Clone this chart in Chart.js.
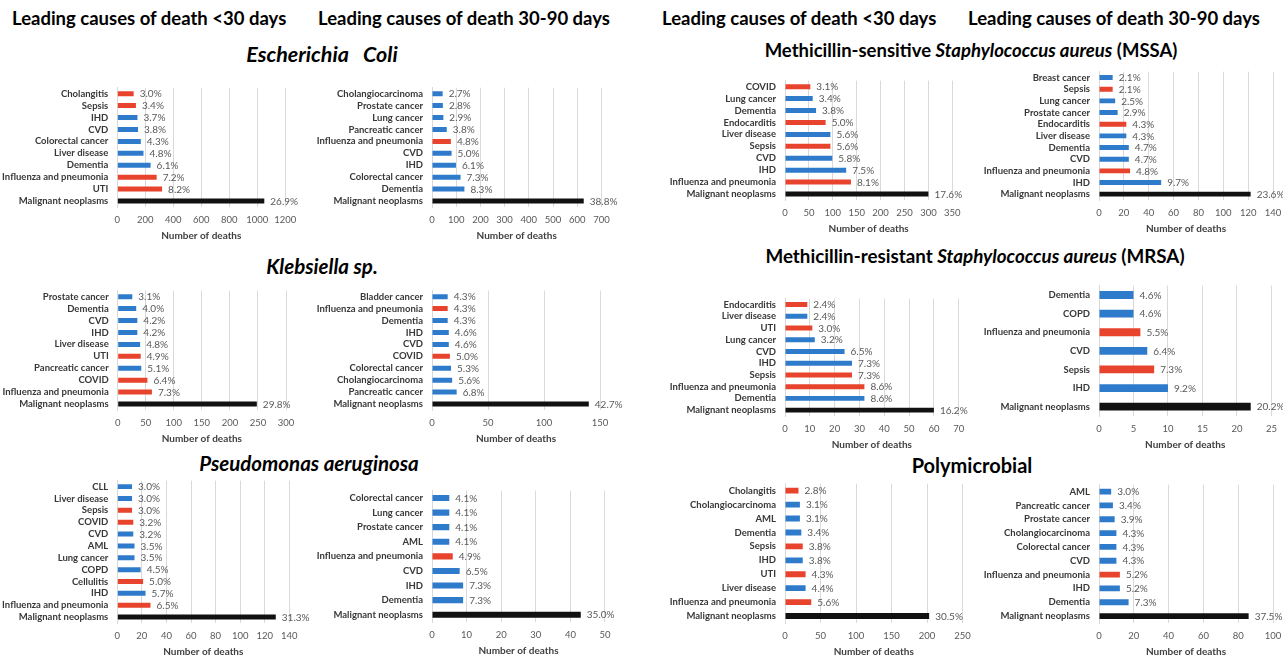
<!DOCTYPE html>
<html><head><meta charset="utf-8">
<script src="https://cdn.jsdelivr.net/npm/chart.js@4.4.1/dist/chart.umd.min.js"></script>
<style>
body{margin:0;background:#fff;width:1283px;height:657px;overflow:hidden;position:relative;font-family:Lato,"Liberation Sans",sans-serif}
.h{position:absolute;font-weight:bold;font-size:18.5px;color:#000;white-space:nowrap;line-height:1;transform:translateY(-50%)}
.t{position:absolute;font-weight:bold;white-space:nowrap;transform:translate(-50%,-50%);line-height:1;color:#000}
canvas{position:absolute}
</style></head><body>
<div class="h" style="left:12px;top:18px">Leading causes of death &lt;30 days</div>
<div class="h" style="left:318px;top:18px">Leading causes of death 30-90 days</div>
<div class="h" style="left:662px;top:18px">Leading causes of death &lt;30 days</div>
<div class="h" style="left:968px;top:18px">Leading causes of death 30-90 days</div>
<div class="t" style="left:322px;top:55px;font-size:21.5px;font-style:italic">Escherichia&nbsp;&nbsp; Coli</div>
<div class="t" style="left:322px;top:266px;font-size:20.5px;font-style:italic">Klebsiella sp.</div>
<div class="t" style="left:309px;top:463px;font-size:20.5px;font-style:italic">Pseudomonas aeruginosa</div>
<div class="t" style="left:971px;top:50px;font-size:18.5px">Methicillin-sensitive <i>Staphylococcus aureus</i> (MSSA)</div>
<div class="t" style="left:975px;top:256px;font-size:18.8px">Methicillin-resistant <i>Staphylococcus aureus</i> (MRSA)</div>
<div class="t" style="left:972px;top:465px;font-size:20px">Polymicrobial</div>
<script>
// ---------- DATA ----------
const ecoliEarlyLabels = ['Cholangitis','Sepsis','IHD','CVD','Colorectal cancer','Liver disease','Dementia','Influenza and pneumonia','UTI','Malignant neoplasms'];
const ecoliEarlyDeaths = [117,133,144,148,168,187,238,281,320,1050];
const ecoliEarlyPct = ['3.0%','3.4%','3.7%','3.8%','4.3%','4.8%','6.1%','7.2%','8.2%','26.9%'];
const ecoliEarlyTicks = [0,200,400,600,800,1000,1200];

const ecoliLateLabels = ['Cholangiocarcinoma','Prostate cancer','Lung cancer','Pancreatic cancer','Influenza and pneumonia','CVD','IHD','Colorectal cancer','Dementia','Malignant neoplasms'];
const ecoliLateDeaths = [44,45,47,61,78,81,99,118,134,627];
const ecoliLatePct = ['2.7%','2.8%','2.9%','3.8%','4.8%','5.0%','6.1%','7.3%','8.3%','38.8%'];
const ecoliLateTicks = [0,100,200,300,400,500,600,700];

const klebEarlyLabels = ['Prostate cancer','Dementia','CVD','IHD','Liver disease','UTI','Pancreatic cancer','COVID','Influenza and pneumonia','Malignant neoplasms'];
const klebEarlyDeaths = [26,33,35,35,40,41,42,53,61,248];
const klebEarlyPct = ['3.1%','4.0%','4.2%','4.2%','4.8%','4.9%','5.1%','6.4%','7.3%','29.8%'];
const klebEarlyTicks = [0,50,100,150,200,250,300];

const klebLateLabels = ['Bladder cancer','Influenza and pneumonia','Dementia','IHD','CVD','COVID','Colorectal cancer','Cholangiocarcinoma','Pancreatic cancer','Malignant neoplasms'];
const klebLateDeaths = [14,14,14,15,15,16,17,18,22,140];
const klebLatePct = ['4.3%','4.3%','4.3%','4.6%','4.6%','5.0%','5.3%','5.6%','6.8%','42.7%'];
const klebLateTicks = [0,50,100,150];

const pseudoEarlyLabels = ['CLL','Liver disease','Sepsis','COVID','CVD','AML','Lung cancer','COPD','Cellulitis','IHD','Influenza and pneumonia','Malignant neoplasms'];
const pseudoEarlyDeaths = [12,12,12,13,13,14,14,19,21,23,27,129];
const pseudoEarlyPct = ['3.0%','3.0%','3.0%','3.2%','3.2%','3.5%','3.5%','4.5%','5.0%','5.7%','6.5%','31.3%'];
const pseudoEarlyTicks = [0,20,40,60,80,100,120,140];

const pseudoLateLabels = ['Colorectal cancer','Lung cancer','Prostate cancer','AML','Influenza and pneumonia','CVD','IHD','Dementia','Malignant neoplasms'];
const pseudoLateDeaths = [5,5,5,5,6,8,9,9,43];
const pseudoLatePct = ['4.1%','4.1%','4.1%','4.1%','4.9%','6.5%','7.3%','7.3%','35.0%'];
const pseudoLateTicks = [0,10,20,30,40,50];

const mssaEarlyLabels = ['COVID','Lung cancer','Dementia','Endocarditis','Liver disease','Sepsis','CVD','IHD','Influenza and pneumonia','Malignant neoplasms'];
const mssaEarlyDeaths = [53,58,65,85,95,95,99,128,138,300];
const mssaEarlyPct = ['3.1%','3.4%','3.8%','5.0%','5.6%','5.6%','5.8%','7.5%','8.1%','17.6%'];
const mssaEarlyTicks = [0,50,100,150,200,250,300,350];

const mssaLateLabels = ['Breast cancer','Sepsis','Lung cancer','Prostate cancer','Endocarditis','Liver disease','Dementia','CVD','Influenza and pneumonia','IHD','Malignant neoplasms'];
const mssaLateDeaths = [11,11,13,15,22,22,24,24,25,50,122];
const mssaLatePct = ['2.1%','2.1%','2.5%','2.9%','4.3%','4.3%','4.7%','4.7%','4.8%','9.7%','23.6%'];
const mssaLateTicks = [0,20,40,60,80,100,120,140];

const mrsaEarlyLabels = ['Endocarditis','Liver disease','UTI','Lung cancer','CVD','IHD','Sepsis','Influenza and pneumonia','Dementia','Malignant neoplasms'];
const mrsaEarlyDeaths = [9,9,11,12,24,27,27,32,32,60];
const mrsaEarlyPct = ['2.4%','2.4%','3.0%','3.2%','6.5%','7.3%','7.3%','8.6%','8.6%','16.2%'];
const mrsaEarlyTicks = [0,10,20,30,40,50,60,70];

const mrsaLateLabels = ['Dementia','COPD','Influenza and pneumonia','CVD','Sepsis','IHD','Malignant neoplasms'];
const mrsaLateDeaths = [5,5,6,7,8,10,22];
const mrsaLatePct = ['4.6%','4.6%','5.5%','6.4%','7.3%','9.2%','20.2%'];
const mrsaLateTicks = [0,5,10,15,20,25];

const polyEarlyLabels = ['Cholangitis','Cholangiocarcinoma','AML','Dementia','Sepsis','IHD','UTI','Liver disease','Influenza and pneumonia','Malignant neoplasms'];
const polyEarlyDeaths = [19,21,21,23,25,25,29,29,37,203];
const polyEarlyPct = ['2.8%','3.1%','3.1%','3.4%','3.8%','3.8%','4.3%','4.4%','5.6%','30.5%'];
const polyEarlyTicks = [0,50,100,150,200,250];

const polyLateLabels = ['AML','Pancreatic cancer','Prostate cancer','Cholangiocarcinoma','Colorectal cancer','CVD','Influenza and pneumonia','IHD','Dementia','Malignant neoplasms'];
const polyLateDeaths = [7,8,9,10,10,10,12,12,17,86];
const polyLatePct = ['3.0%','3.4%','3.9%','4.3%','4.3%','4.3%','5.2%','5.2%','7.3%','37.5%'];
const polyLateTicks = [0,20,40,60,80,100];

// infection-related causes drawn in red; malignant neoplasms in black
const infectiousCauses = ['Cholangitis','Sepsis','Influenza and pneumonia','UTI','COVID','Cellulitis','Endocarditis'];
const totalCause = 'Malignant neoplasms';

// ---------- STYLE / LAYOUT ----------
const RED = '#e8432d', BLUE = '#2f7bcb', BLACK = '#111111';
const FONT = 'Lato, "Liberation Sans", sans-serif';
Chart.defaults.font.family = FONT;

const pctLabelPlugin = {
  id: 'pctLabels',
  afterDatasetsDraw(chart) {
    const ctx = chart.ctx;
    const meta = chart.getDatasetMeta(0);
    const labels = chart.config.options.plugins.pctLabels.labels;
    ctx.save();
    ctx.font = '10px ' + FONT;
    ctx.fillStyle = '#595959';
    ctx.textAlign = 'left';
    ctx.textBaseline = 'middle';
    meta.data.forEach((bar, i) => {
      ctx.fillText(labels[i], bar.x + 6, bar.y + 0.5);
    });
    ctx.restore();
  }
};

function colorFor(label) {
  if (label === totalCause) return BLACK;
  return infectiousCauses.includes(label) ? RED : BLUE;
}

function makePanel(labels, deaths, pct, ticks, box) {
  const padTop = 8, padRight = 55, XH = 39;
  const YW = Math.min(130, box.L);
  const left = box.L - YW;
  const top = box.T - padTop;
  const w = Math.round(YW + (box.R - box.L) + padRight);
  const h = Math.round(padTop + (box.B - box.T) + XH);
  const canvas = document.createElement('canvas');
  canvas.width = w; canvas.height = h;
  canvas.style.left = left + 'px';
  canvas.style.top = top + 'px';
  canvas.style.width = w + 'px';
  canvas.style.height = h + 'px';
  document.body.appendChild(canvas);
  const plotW = box.R - box.L;
  new Chart(canvas, {
    type: 'bar',
    data: {
      labels: labels,
      datasets: [{
        data: deaths,
        backgroundColor: labels.map(colorFor),
        categoryPercentage: 1,
        barPercentage: 0.42
      }]
    },
    plugins: [pctLabelPlugin],
    options: {
      indexAxis: 'y',
      responsive: false,
      animation: false,
      devicePixelRatio: 1,
      layout: { padding: { top: padTop, right: w - YW - plotW, left: 0, bottom: 0 } },
      plugins: { legend: { display: false }, tooltip: { enabled: false }, pctLabels: { labels: pct } },
      scales: {
        x: {
          min: ticks[0], max: ticks[ticks.length - 1],
          afterBuildTicks: s => { s.ticks = ticks.map(v => ({ value: v })); },
          ticks: { color: '#595959', font: { size: 9.5 }, padding: 7, maxRotation: 0, autoSkip: false, callback: v => String(v) },
          grid: { color: '#d9d9d9', drawTicks: false },
          border: { display: false },
          title: { display: true, text: 'Number of deaths', color: '#404040', font: { size: 10, weight: 'bold' }, padding: { top: 4, bottom: 4 } },
          afterFit: s => { s.height = XH; }
        },
        y: {
          ticks: { color: '#383838', font: { size: 9.5, weight: 'bold' }, padding: 9, autoSkip: false },
          grid: { display: false, drawTicks: false },
          border: { display: true, color: '#d9d9d9' },
          afterFit: s => { s.width = YW; }
        }
      }
    }
  });
}

makePanel(ecoliEarlyLabels, ecoliEarlyDeaths, ecoliEarlyPct, ecoliEarlyTicks, { L: 117.3, R: 285.3, T: 81, B: 207 });
makePanel(ecoliLateLabels, ecoliLateDeaths, ecoliLatePct, ecoliLateTicks, { L: 432.3, R: 601.7, T: 81, B: 207 });
makePanel(klebEarlyLabels, klebEarlyDeaths, klebEarlyPct, klebEarlyTicks, { L: 117.7, R: 286, T: 283.7, B: 409.6 });
makePanel(klebLateLabels, klebLateDeaths, klebLatePct, klebLateTicks, { L: 432, R: 600, T: 283.7, B: 409.6 });
makePanel(pseudoEarlyLabels, pseudoEarlyDeaths, pseudoEarlyPct, pseudoEarlyTicks, { L: 117.3, R: 289.3, T: 473.8, B: 622.9 });
makePanel(pseudoLateLabels, pseudoLateDeaths, pseudoLatePct, pseudoLateTicks, { L: 432.3, R: 605.3, T: 484, B: 621.6 });
makePanel(mssaEarlyLabels, mssaEarlyDeaths, mssaEarlyPct, mssaEarlyTicks, { L: 785.3, R: 952.6, T: 73.7, B: 199.6 });
makePanel(mssaLateLabels, mssaLateDeaths, mssaLatePct, mssaLateTicks, { L: 1099.3, R: 1273.3, T: 64.9, B: 199.4 });
makePanel(mrsaEarlyLabels, mrsaEarlyDeaths, mrsaEarlyPct, mrsaEarlyTicks, { L: 785.3, R: 959, T: 292.1, B: 416.2 });
makePanel(mrsaLateLabels, mrsaLateDeaths, mrsaLatePct, mrsaLateTicks, { L: 1099.3, R: 1271.7, T: 279.3, B: 415.8 });
makePanel(polyEarlyLabels, polyEarlyDeaths, polyEarlyPct, polyEarlyTicks, { L: 785.3, R: 962.8, T: 476.7, B: 622.3 });
makePanel(polyLateLabels, polyLateDeaths, polyLatePct, polyLateTicks, { L: 1099.3, R: 1273.3, T: 477.7, B: 622.9 });
</script>
</body></html>
